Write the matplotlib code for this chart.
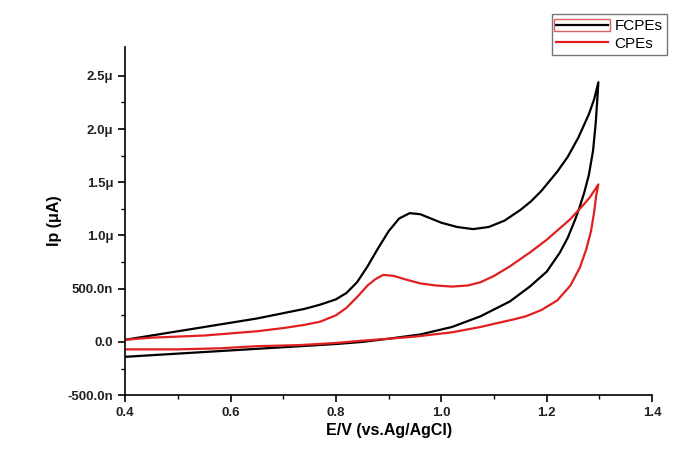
import matplotlib.pyplot as plt
from matplotlib.patches import Rectangle

plt.rcParams['font.family'] = ['Liberation Sans', 'DejaVu Sans']

# FCPEs: forward scan then reverse scan (E in V, I in uA)
fcpe_E = [0.40, 0.45, 0.50, 0.55, 0.60, 0.65, 0.70, 0.74, 0.77, 0.80, 0.82, 0.84, 0.86, 0.88,
          0.90, 0.92, 0.94, 0.96, 0.98, 1.00, 1.03, 1.06, 1.09, 1.12, 1.15, 1.17, 1.19, 1.22,
          1.24, 1.26, 1.28, 1.29, 1.298,
          1.296, 1.293, 1.288, 1.280, 1.271, 1.262, 1.254, 1.24, 1.225, 1.20, 1.168, 1.13,
          1.074, 1.02, 0.96, 0.90, 0.85, 0.80, 0.70, 0.60, 0.50, 0.40]
fcpe_I = [0.02, 0.06, 0.10, 0.14, 0.18, 0.22, 0.27, 0.31, 0.35, 0.40, 0.46, 0.56, 0.71, 0.88,
          1.04, 1.16, 1.21, 1.20, 1.16, 1.12, 1.08, 1.06, 1.08, 1.14, 1.24, 1.32, 1.42, 1.60,
          1.74, 1.92, 2.14, 2.28, 2.44,
          2.28, 2.06, 1.80, 1.57, 1.40, 1.26, 1.15, 0.98, 0.84, 0.66, 0.52, 0.38,
          0.24, 0.14, 0.07, 0.03, 0.00, -0.02, -0.05, -0.08, -0.11, -0.14]

# CPEs: forward scan then reverse scan
cpe_E = [0.40, 0.45, 0.50, 0.55, 0.60, 0.65, 0.70, 0.74, 0.77, 0.80, 0.82, 0.84, 0.86, 0.875,
         0.89, 0.91, 0.93, 0.96, 0.99, 1.02, 1.05, 1.074, 1.10, 1.13, 1.168, 1.20, 1.244, 1.27,
         1.282, 1.298,
         1.294, 1.290, 1.284, 1.275, 1.263, 1.245, 1.22, 1.19, 1.16, 1.136, 1.10, 1.074,
         1.02, 0.95, 0.90, 0.846, 0.80, 0.73, 0.65, 0.58, 0.50, 0.40]
cpe_I = [0.02, 0.04, 0.05, 0.06, 0.08, 0.10, 0.13, 0.16, 0.19, 0.25, 0.32, 0.42, 0.53, 0.59,
         0.63, 0.62, 0.59, 0.55, 0.53, 0.52, 0.53, 0.56, 0.62, 0.71, 0.84, 0.96, 1.15, 1.29,
         1.36, 1.48,
         1.38, 1.22, 1.04, 0.87, 0.70, 0.53, 0.39, 0.30, 0.24, 0.21, 0.17, 0.14,
         0.09, 0.05, 0.03, 0.01, -0.01, -0.03, -0.04, -0.06, -0.07, -0.07]

x_ticks = [0.4, 0.6, 0.8, 1.0, 1.2, 1.4]
y_ticks = [-0.5, 0.0, 0.5, 1.0, 1.5, 2.0, 2.5]
y_ticklabels = ['-500.0n', '0.0', '500.0n', '1.0\u03bc', '1.5\u03bc', '2.0\u03bc', '2.5\u03bc']

fig = plt.figure(figsize=(6.8, 4.49), dpi=100)
ax = fig.add_axes([0.184, 0.120, 0.775, 0.775])

ax.plot(fcpe_E, fcpe_I, color='black', lw=1.6, label='FCPEs')
ax.plot(cpe_E, cpe_I, color='#e02020', lw=1.6, label='CPEs')

ax.set_xlim(0.4, 1.4)
ax.set_ylim(-0.5, 2.77)
ax.set_xticks(x_ticks)
ax.set_xticks([0.5, 0.7, 0.9, 1.1, 1.3], minor=True)
ax.set_yticks(y_ticks)
ax.set_yticklabels(y_ticklabels)
ax.set_yticks([-0.25, 0.25, 0.75, 1.25, 1.75, 2.25], minor=True)
ax.tick_params(which='major', direction='out', length=5, width=1.2, labelsize=9.5)
ax.tick_params(which='minor', direction='out', length=3, width=1.0)
for lab in ax.get_xticklabels() + ax.get_yticklabels():
    lab.set_fontweight('bold')
    lab.set_color('#222222')
ax.spines['top'].set_visible(False)
ax.spines['right'].set_visible(False)
for s in ('left', 'bottom'):
    ax.spines[s].set_linewidth(1.2)

ax.set_xlabel('E/V (vs.Ag/AgCl)', fontsize=11.5, fontweight='bold', labelpad=3)
ax.set_ylabel('Ip (\u03bcA)', fontsize=11.5, fontweight='bold', labelpad=4)

leg = fig.legend(loc='upper right', bbox_to_anchor=(0.992, 0.985), fontsize=11,
                 frameon=True, fancybox=False, edgecolor='#555555', handlelength=3.4,
                 borderpad=0.3, labelspacing=0.25, handletextpad=0.4)
leg.get_frame().set_linewidth(1.0)

# red box drawn round the first legend sample, as in the original figure
fig.canvas.draw()
bb = leg.get_lines()[0].get_window_extent(fig.canvas.get_renderer())
inv = fig.transFigure.inverted()
(x0, y0), (x1, y1) = inv.transform([[bb.x0 - 2, bb.y0 - 6], [bb.x1 + 2, bb.y1 + 6]])
box = Rectangle((x0, y0), x1 - x0, y1 - y0, transform=fig.transFigure,
                fill=False, edgecolor='#e06060', lw=1.0, zorder=10)
fig.add_artist(box)

fig.savefig('out.png', dpi=100)
